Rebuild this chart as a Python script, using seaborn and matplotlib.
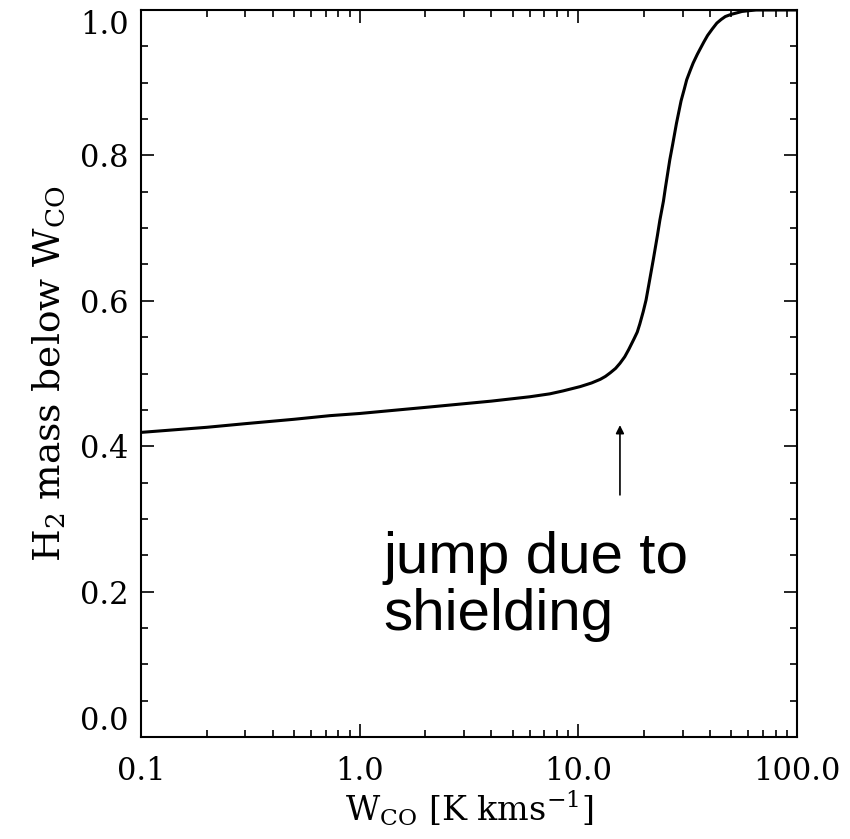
import numpy as np
import pandas as pd
import seaborn as sns
import matplotlib
matplotlib.use("Agg")
import matplotlib.pyplot as plt
from matplotlib.ticker import FixedLocator, FixedFormatter, MultipleLocator

# ---- data ----
w_co = [0.1, 0.2, 0.3, 0.5, 0.73, 1.0, 2.1, 4.0, 6.0, 7.4, 8.5, 10.2, 11.5, 12.6,
        13.3, 14.0, 14.8, 15.5, 16.3, 17.0, 18.0, 18.6, 19.1, 19.8, 20.4, 21.0,
        22.0, 23.0, 23.6, 24.5, 25.0, 26.2, 27.0, 28.1, 29.5, 30.5, 31.3, 32.5,
        33.5, 35.0, 36.0, 37.5, 39.0, 41.0, 43.0, 45.0, 47.0, 50.0, 53.0, 56.0,
        60.0, 65.0, 70.0, 100.0]
h2_frac = [0.419, 0.426, 0.431, 0.437, 0.442, 0.445, 0.454, 0.462, 0.468, 0.472,
           0.476, 0.482, 0.487, 0.492, 0.496, 0.501, 0.507, 0.514, 0.523, 0.533,
           0.548, 0.557, 0.568, 0.585, 0.601, 0.622, 0.656, 0.690, 0.711, 0.737,
           0.755, 0.794, 0.815, 0.844, 0.875, 0.891, 0.904, 0.917, 0.927, 0.939,
           0.946, 0.956, 0.965, 0.974, 0.982, 0.987, 0.991, 0.994, 0.996, 0.998,
           0.999, 1.0, 1.0, 1.0]
xtick_vals = [0.1, 1.0, 10.0, 100.0]
xtick_labels = ["0.1", "1.0", "10.0", "100.0"]
ytick_vals = [0.0, 0.2, 0.4, 0.6, 0.8, 1.0]
ytick_labels = ["0.0", "0.2", "0.4", "0.6", "0.8", "1.0"]
arrow_x = 15.5
arrow_tail_y = 0.333
arrow_head_y = 0.429
note_lines = ["jump due to", "shielding"]

df = pd.DataFrame({"wco": w_co, "frac": h2_frac})

sns.set_theme(style="ticks")
plt.rcParams["font.family"] = ["DejaVu Serif"]
plt.rcParams["mathtext.fontset"] = "dejavuserif"
plt.rcParams["text.color"] = "black"
plt.rcParams["axes.labelcolor"] = "black"
plt.rcParams["xtick.color"] = "black"
plt.rcParams["ytick.color"] = "black"
plt.rcParams["xtick.labelcolor"] = "black"
plt.rcParams["ytick.labelcolor"] = "black"

fig = plt.figure(figsize=(8.5, 8.39), dpi=100)
ax = fig.add_axes([141 / 850, 102 / 839, 656 / 850, 727 / 839])

sns.lineplot(data=df, x="wco", y="frac", ax=ax, color="black", linewidth=2.2)

ax.set_xscale("log")
ax.set_xlim(0.1, 100)
ax.set_ylim(0, 1)

ax.xaxis.set_major_locator(FixedLocator(xtick_vals))
ax.xaxis.set_major_formatter(FixedFormatter(xtick_labels))
minors = [m * d for d in [0.1, 1, 10] for m in range(2, 10)]
ax.xaxis.set_minor_locator(FixedLocator(minors))
ax.xaxis.set_minor_formatter(FixedFormatter([""] * len(minors)))
ax.yaxis.set_major_locator(FixedLocator(ytick_vals))
ax.yaxis.set_major_formatter(FixedFormatter(ytick_labels))
ax.yaxis.set_minor_locator(MultipleLocator(0.05))

for sp in ax.spines.values():
    sp.set_linewidth(1.5)
    sp.set_color("black")

ax.tick_params(which="both", direction="in", top=True, right=True, color="black")
ax.tick_params(which="major", length=9.5, width=1.2)
ax.tick_params(which="minor", length=5, width=1.2)
ax.tick_params(axis="x", which="major", labelsize=22, pad=14)
ax.tick_params(axis="y", which="major", labelsize=22, pad=9)

ax.set_xlabel(r"W$_{\rm CO}$ [K kms$^{-1}$]", fontsize=24, labelpad=1, color="black")
ax.set_ylabel(r"H$_2$ mass below W$_{\rm CO}$", fontsize=27, labelpad=8, color="black")

fig.canvas.draw()
ylabels = ax.get_yticklabels()
ylabels[0].set_va("bottom")
ylabels[-1].set_va("top")

ax.annotate("", xy=(arrow_x, arrow_head_y), xytext=(arrow_x, arrow_tail_y),
            arrowprops=dict(arrowstyle="-|>", color="black", lw=1.2,
                            mutation_scale=12, shrinkA=0, shrinkB=0))

ax.text(1.28, 0.2256, note_lines[0], fontsize=42, family="Liberation Sans",
        va="baseline", ha="left", color="black")
ax.text(1.28, 0.147, note_lines[1], fontsize=42, family="Liberation Sans",
        va="baseline", ha="left", color="black")

fig.savefig("out.png", dpi=100, facecolor="white")
